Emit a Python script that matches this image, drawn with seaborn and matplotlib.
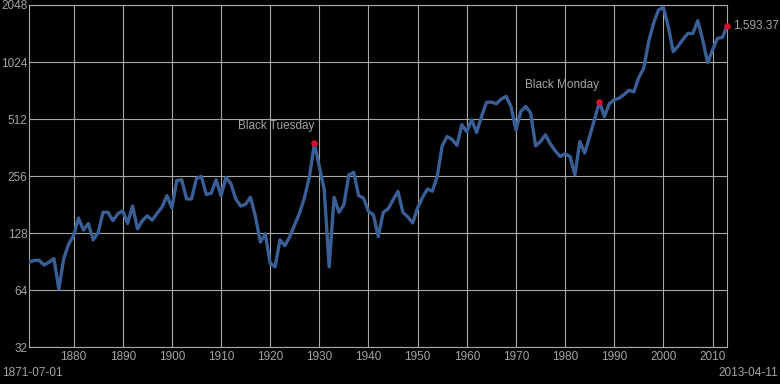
import matplotlib
matplotlib.use('Agg')
import matplotlib.pyplot as plt
import seaborn as sns
import pandas as pd

years = list(range(1871, 2014))
values = [
    90, 92, 92, 87, 90, 94, 65, 94, 112,                       # 1871-1879
    124, 154, 133, 144, 118, 129, 165, 165, 149, 162,          # 1880s
    168, 144, 178, 135, 149, 158, 150, 163, 176, 202,          # 1890s
    174, 243, 245, 194, 194, 249, 255, 205, 208, 245,          # 1900s
    202, 252, 234, 194, 178, 182, 198, 157, 115, 127,          # 1910s
    89, 85, 118, 110, 123, 142, 164, 198, 255, 381,            # 1920s
    288, 217, 85, 198, 165, 181, 260, 268, 202, 196,           # 1930s
    167, 160, 123, 165, 172, 192, 213, 165, 156, 145,          # 1940s
    174, 198, 219, 213, 256, 370, 414, 400, 372, 478,          # 1950s
    440, 508, 435, 528, 627, 630, 617, 653, 675, 597,          # 1960s
    449, 562, 597, 551, 370, 390, 423, 379, 348, 325,          # 1970s
    336, 325, 260, 390, 339, 415, 512, 630, 528, 617,          # 1980s
    648, 660, 690, 727, 713, 850, 948, 1311, 1641, 1927,       # 1990s
    1990, 1573, 1162, 1243, 1350, 1450, 1450, 1693, 1338, 1016,  # 2000s
    1185, 1366, 1380, 1593.37,                                 # 2010-2013
]

events = ['Black Tuesday', 'Black Monday']
event_years = [1929, 1987]

y_ticks = [32, 64, 128, 256, 512, 1024, 2048]
x_ticks = list(range(1880, 2011, 10))
start_label = '1871-07-01'
end_label = '2013-04-11'

bg = '#000000'
grid_color = '#a8a8a8'
text_color = '#a4a4a4'
line_color = '#3a5f97'
dot_color = '#d0122c'

sns.set_style('dark', rc={'axes.facecolor': bg, 'figure.facecolor': bg})
plt.rcParams['font.family'] = ['Liberation Sans', 'DejaVu Sans']

df = pd.DataFrame({'year': years, 'price': values})

fig = plt.figure(figsize=(7.8, 3.84), dpi=100)
ax = fig.add_axes([0.0376, 0.0956, 0.8948, 0.8914])

sns.lineplot(data=df, x='year', y='price', ax=ax, color=line_color,
             linewidth=2.4, zorder=3)

ax.set_yscale('log', base=2)
ax.set_ylim(y_ticks[0], y_ticks[-1])
ax.set_xlim(years[0], years[-1])
ax.set_yticks(y_ticks)
ax.set_yticklabels([str(t) for t in y_ticks])
ax.minorticks_off()
ax.set_xticks(x_ticks)
ax.set_xticklabels([str(t) for t in x_ticks])
ax.set_xlabel('')
ax.set_ylabel('')

ax.grid(True, color=grid_color, linewidth=0.8)
ax.set_axisbelow(True)
for s in ax.spines.values():
    s.set_visible(True)
    s.set_color(grid_color)
    s.set_linewidth(0.8)
ax.tick_params(length=0, colors=text_color, labelsize=8.5)
ax.tick_params(axis='y', pad=1.5)
ax.tick_params(axis='x', pad=3)

# event markers
for name, yr in zip(events, event_years):
    v = df.loc[df['year'] == yr, 'price'].iloc[0]
    ax.scatter([yr], [v], s=22, color=dot_color, zorder=4, linewidths=0)
    ax.annotate(name, (yr, v), xytext=(0, 8), textcoords='offset points',
                ha='right', va='bottom', color=text_color, fontsize=8.5)

# last value
ax.scatter([years[-1]], [values[-1]], s=22, color=dot_color, zorder=4,
           linewidths=0, clip_on=False)
ax.annotate(f'{values[-1]:,.2f}', (years[-1], values[-1]), xytext=(4.5, 0),
            textcoords='offset points', ha='left', va='center',
            color=text_color, fontsize=8.5, annotation_clip=False)

fig.text(2 / 780, 1 - 373 / 384, start_label, ha='left', va='center',
         color=text_color, fontsize=8.5)
fig.text(778 / 780, 1 - 373 / 384, end_label, ha='right', va='center',
         color=text_color, fontsize=8.5)

fig.savefig('out.png', dpi=100, facecolor=bg)
